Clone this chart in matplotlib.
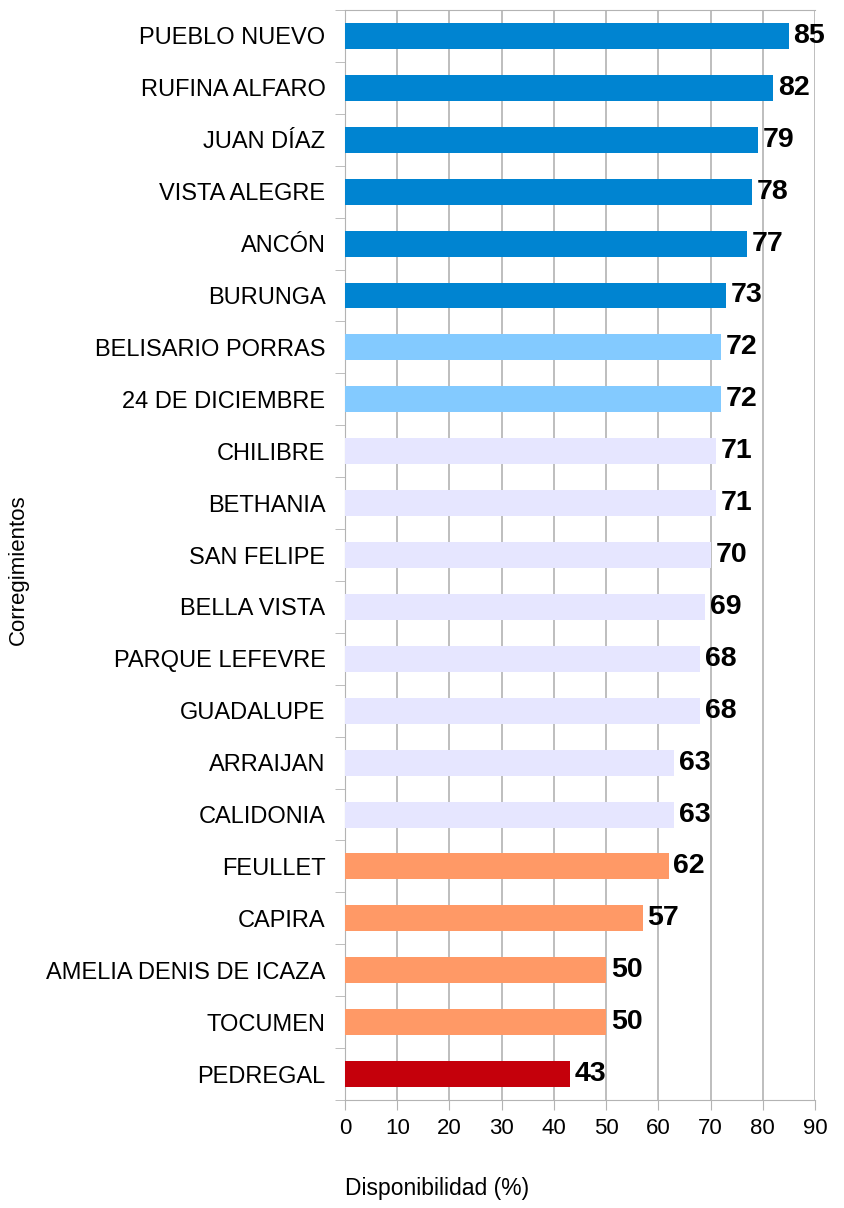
import numpy as np
import matplotlib
matplotlib.use('Agg')
import matplotlib.pyplot as plt

plt.rcParams['font.family'] = ['Liberation Sans', 'DejaVu Sans']

names = ['PUEBLO NUEVO', 'RUFINA ALFARO', 'JUAN DÍAZ', 'VISTA ALEGRE', 'ANCÓN',
         'BURUNGA', 'BELISARIO PORRAS', '24 DE DICIEMBRE', 'CHILIBRE', 'BETHANIA',
         'SAN FELIPE', 'BELLA VISTA', 'PARQUE LEFEVRE', 'GUADALUPE', 'ARRAIJAN',
         'CALIDONIA', 'FEULLET', 'CAPIRA', 'AMELIA DENIS DE ICAZA', 'TOCUMEN',
         'PEDREGAL']
values = [85, 82, 79, 78, 77, 73, 72, 72, 71, 71, 70, 69, 68, 68, 63, 63,
          62, 57, 50, 50, 43]
groups = ['a'] * 6 + ['b'] * 2 + ['c'] * 8 + ['d'] * 4 + ['e']
palette = {'a': '#0084D1', 'b': '#83CAFF', 'c': '#E6E6FF',
           'd': '#FF9966', 'e': '#C5000B'}
xticks = list(range(0, 100, 10))

fig = plt.figure(figsize=(8.45, 12.08), dpi=100)
ax = fig.add_axes([345 / 845, 1 - 1100 / 1208, 470 / 845, 1090 / 1208])

n = len(names)
y = np.arange(n)
ax.barh(y, values, height=0.5, color=[palette[g] for g in groups], zorder=3)
for yi, v in zip(y, values):
    ax.text(v + 0.9, yi, str(v), va='center', ha='left', fontsize=20.5,
            fontweight='bold', zorder=4)

ax.set_ylim(n - 0.5, -0.5)
ax.set_xlim(0, 90)
ax.set_yticks(y)
ax.set_yticklabels(names, fontsize=17)
ax.set_yticks(np.arange(-0.5, n, 1), minor=True)
ax.tick_params(axis='y', which='major', length=0, pad=14)
ax.tick_params(axis='y', which='minor', length=7, color='#b3b3b3', direction='out')
ax.set_xticks(xticks)
ax.tick_params(axis='x', length=7, color='#b3b3b3', labelsize=16, pad=6)
ax.grid(axis='x', color='#b3b3b3', lw=1.2, zorder=0)
ax.spines['right'].set_visible(False)
for s in ['top', 'left', 'bottom']:
    ax.spines[s].set_color('#b3b3b3')

fig.text(18 / 845, 1 - 570 / 1208, 'Corregimientos', rotation=90,
         va='center', ha='center', fontsize=16)
fig.text(437 / 845, 1 - 1188 / 1208, 'Disponibilidad (%)',
         va='center', ha='center', fontsize=16.5)

fig.savefig('out.png', dpi=100)
